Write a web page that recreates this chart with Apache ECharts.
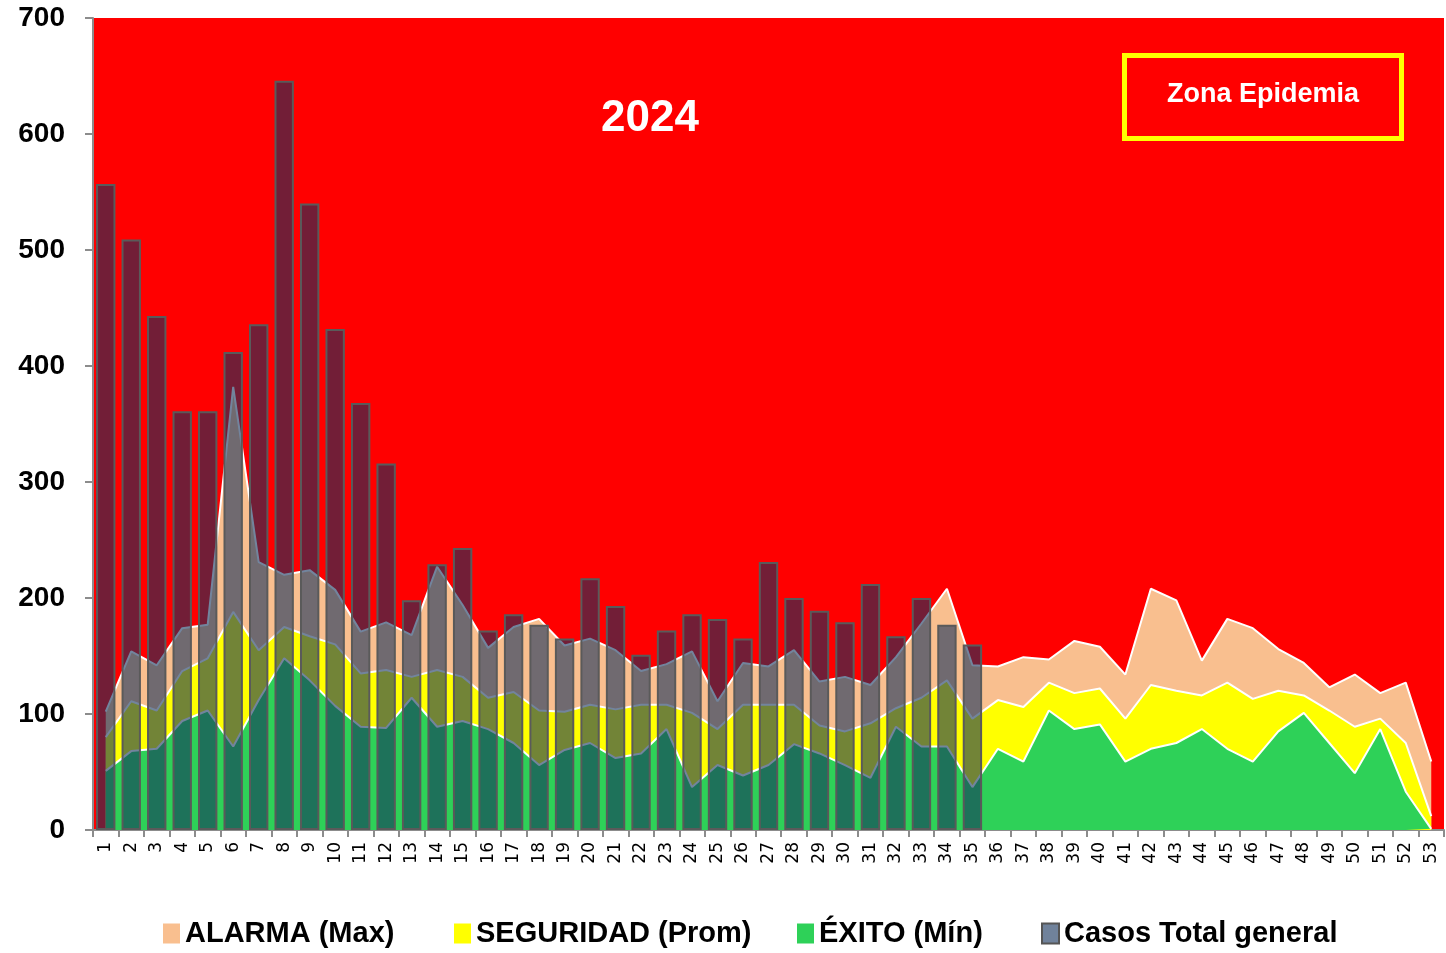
<!DOCTYPE html>
<html>
<head>
<meta charset="utf-8">
<script src="https://cdn.jsdelivr.net/npm/echarts@6/dist/echarts.min.js"></script>
<style>
html, body { margin: 0; padding: 0; background: #fff; }
#chart { width: 1446px; height: 953px; }
</style>
</head>
<body>
<div id="chart"></div>
<script>
var semanas = [];
for (var i = 1; i <= 53; i++) semanas.push(String(i));

// casos por semana epidemiologica (hasta la semana 35)
var casos = [557, 509, 443, 361, 361, 412, 436, 646, 540, 432, 368, 316, 198, 229, 243, 172, 186, 177,
    165, 217, 193, 151, 172, 186, 182, 165, 231, 200, 189, 179, 212, 167, 200, 177, 160];

var alarma = [102, 154, 142, 174, 177, 382, 231, 220, 224, 207, 171, 179, 168, 227, 194, 157, 175, 182,
    159, 165, 155, 137, 143, 154, 111, 144, 141, 155, 128, 132, 125, 149, 178, 208, 142, 141, 149, 147,
    163, 158, 134, 208, 198, 146, 182, 174, 156, 144, 123, 134, 118, 127, 59];

var seguridad = [80, 111, 103, 137, 148, 188, 155, 175, 167, 160, 135, 138, 132, 138, 132, 114, 119, 103,
    102, 108, 104, 108, 108, 101, 87, 108, 108, 108, 90, 85, 92, 105, 114, 129, 96, 112, 106, 127,
    118, 122, 96, 125, 120, 116, 127, 113, 120, 116, 103, 89, 96, 75, 12];

var exito = [51, 68, 70, 94, 103, 72, 112, 148, 129, 107, 89, 88, 114, 89, 94, 87, 75, 56,
    69, 75, 62, 66, 87, 37, 56, 47, 56, 74, 66, 56, 45, 89, 72, 72, 37, 70, 59, 103,
    87, 91, 59, 70, 75, 87, 70, 59, 85, 101, 75, 49, 87, 33, 1];

var yTicks = [0, 100, 200, 300, 400, 500, 600, 700];

var chart = echarts.init(document.getElementById('chart'));
var fuente = "'Liberation Sans', Arial, sans-serif";

function areaSerie(nombre, datos, color) {
    return {
        name: nombre,
        type: 'line',
        z: 2,
        data: datos,
        symbol: 'none',
        color: color,
        lineStyle: { color: '#fff', width: 2 },
        areaStyle: { color: color, opacity: 1 },
        emphasis: { disabled: true }
    };
}

function leyenda(nombre, left, color, borde) {
    return {
        left: left,
        top: 914,
        icon: 'rect',
        itemWidth: 17,
        itemHeight: 20,
        itemGap: 8,
        selectedMode: false,
        textStyle: { fontFamily: fuente, fontWeight: 'bold', fontSize: 29, color: '#000' },
        data: [{
            name: nombre,
            itemStyle: { color: color, borderColor: borde || color, borderWidth: borde ? 2 : 0 }
        }]
    };
}

var option = {
    animation: false,
    grid: {
        left: 93, right: 2, top: 18, bottom: 123,
        show: true, backgroundColor: '#ff0000', borderWidth: 0
    },
    legend: [
        leyenda('ALARMA (Max)', 158, '#f9bf8f'),
        leyenda('SEGURIDAD (Prom)', 449, '#ffff00'),
        leyenda('ÉXITO (Mín)', 792, '#2ed158'),
        leyenda('Casos Total general', 1036, '#70829b', '#555')
    ],
    xAxis: {
        type: 'category',
        data: semanas,
        boundaryGap: true,
        axisLine: { lineStyle: { color: '#8c8c8c', width: 2 } },
        axisTick: { show: true, length: 7, lineStyle: { color: '#8c8c8c', width: 2 } },
        axisLabel: {
            interval: 0, rotate: 90, margin: 12,
            fontFamily: "'DejaVu Sans', sans-serif", fontSize: 17, color: '#000'
        },
        splitLine: { show: false }
    },
    yAxis: {
        type: 'value',
        min: yTicks[0],
        max: yTicks[yTicks.length - 1],
        interval: 100,
        axisLine: { show: true, lineStyle: { color: '#8c8c8c', width: 2 } },
        axisTick: { show: true, length: 8, lineStyle: { color: '#8c8c8c', width: 2 } },
        axisLabel: {
            margin: 28, fontFamily: fuente,
            fontWeight: 'bold', fontSize: 28, color: '#000'
        },
        splitLine: { show: false }
    },
    graphic: [
        {
            type: 'text', left: 601, top: 97, z: 10,
            style: { text: '2024', fill: '#fff', font: "bold 44px 'Liberation Sans', Arial, sans-serif" }
        },
        {
            type: 'rect', z: 10,
            shape: { x: 1124.5, y: 55.5, width: 277, height: 83 },
            style: { fill: 'none', stroke: '#ffff00', lineWidth: 5 }
        },
        {
            type: 'text', z: 10, x: 1263, y: 95,
            style: {
                text: 'Zona Epidemia', fill: '#fff', align: 'center', verticalAlign: 'middle',
                font: "bold 27px 'Liberation Sans', Arial, sans-serif"
            }
        }
    ],
    series: [
        areaSerie('ALARMA (Max)', alarma, '#f9bf8f'),
        areaSerie('SEGURIDAD (Prom)', seguridad, '#ffff00'),
        areaSerie('ÉXITO (Mín)', exito, '#2ed158'),
        {
            name: 'Casos Total general',
            type: 'bar',
            z: 5,
            data: casos,
            barWidth: '76%',
            itemStyle: { color: 'rgba(20, 50, 92, 0.6)', borderColor: '#5a5a5a', borderWidth: 2 },
            emphasis: { disabled: true }
        }
    ]
};
chart.setOption(option);
</script>
</body>
</html>
